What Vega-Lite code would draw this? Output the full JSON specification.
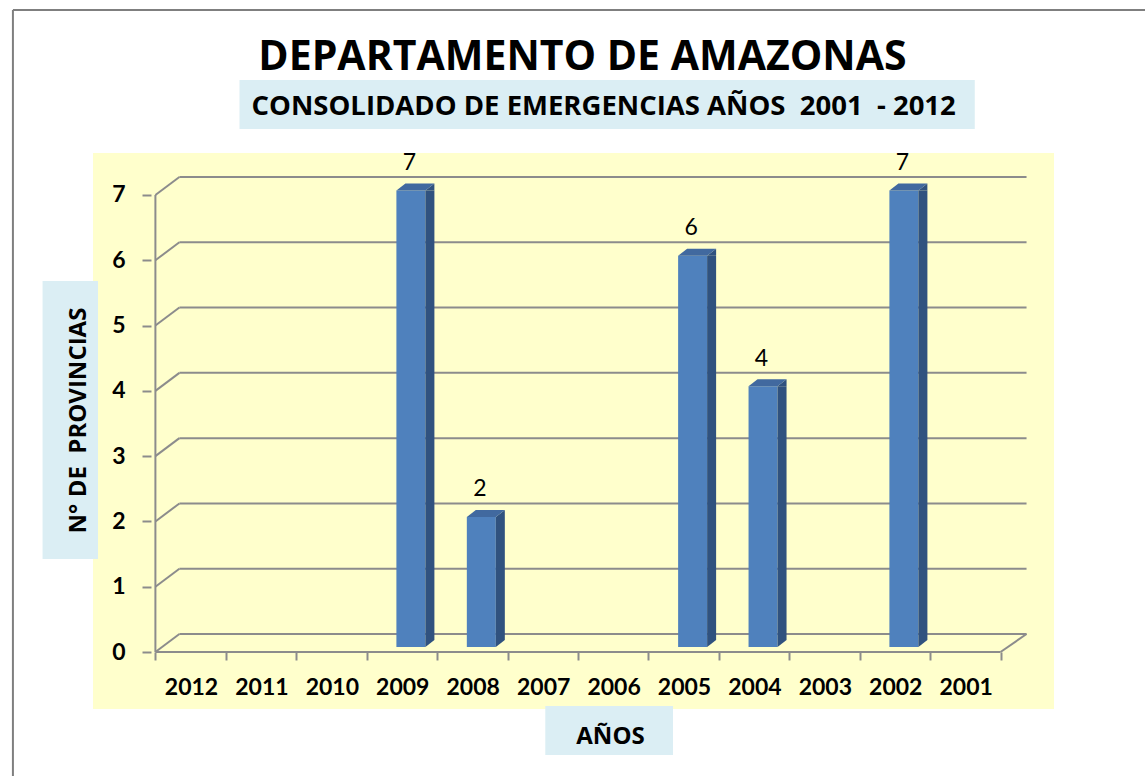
{
  "$schema": "https://vega.github.io/schema/vega-lite/v6.json",
  "width": 961,
  "height": 556,
  "autosize": "none",
  "padding": {"left": 93, "top": 153, "right": 91, "bottom": 67},
  "background": "white",
  "view": {"fill": "#FFFFCC", "stroke": null},
  "config": {"font": "Lato"},
  "datasets": {
    "bars": [
      {"year": 2012, "value": 0},
      {"year": 2011, "value": 0},
      {"year": 2010, "value": 0},
      {"year": 2009, "value": 7},
      {"year": 2008, "value": 2},
      {"year": 2007, "value": 0},
      {"year": 2006, "value": 0},
      {"year": 2005, "value": 6},
      {"year": 2004, "value": 4},
      {"year": 2003, "value": 0},
      {"year": 2002, "value": 7},
      {"year": 2001, "value": 0}
    ],
    "levels": [{"v": 0}, {"v": 1}, {"v": 2}, {"v": 3}, {"v": 4}, {"v": 5}, {"v": 6}, {"v": 7}],
    "one": [{}]
  },
  "layer": [
    {
      "data": {"name": "bars"},
      "transform": [{"filter": "datum.value > 0"}],
      "mark": {"type": "bar", "color": "#4F81BD", "width": 29, "xOffset": 9, "yOffset": -4.5, "y2Offset": -5, "opacity": 0},
      "encoding": {
        "x": {
          "field": "year",
          "type": "quantitative",
          "scale": {"domain": [1999.812, 2013.315], "reverse": true, "nice": false, "zero": false},
          "axis": {
            "values": [2012.5, 2011.5, 2010.5, 2009.5, 2008.5, 2007.5, 2006.5, 2005.5, 2004.5, 2003.5, 2002.5, 2001.5, 2000.5],
            "offset": -57,
            "zindex": 1,
            "domain": false,
            "grid": false,
            "tickSize": 8,
            "tickColor": "#8C8C8C",
            "tickWidth": 2,
            "labelExpr": "datum.value > 2001 ? '' + floor(datum.value) : ''",
            "labelOffset": 35.6,
            "labelFont": "Lato",
            "labelFontWeight": "bold",
            "labelFontSize": 23,
            "labelColor": "black",
            "labelPadding": 16,
            "labelOverlap": false,
            "labelFlush": false,
            "labelBound": false,
            "title": "AÑOS",
            "titleFont": "Open Sans",
            "titleFontWeight": "bold",
            "titleFontSize": 24,
            "titleColor": "black",
            "titleX": 517,
            "titleY": 91,
            "titleAlign": "center",
            "titleBaseline": "alphabetic"
          }
        },
        "y": {
          "field": "value",
          "type": "quantitative",
          "scale": {"domain": [-0.873, 7.643], "nice": false, "zero": false},
          "axis": {
            "values": [0, 1, 2, 3, 4, 5, 6, 7],
            "format": "d",
            "offset": -58,
            "zindex": 1,
            "domain": false,
            "grid": false,
            "tickSize": 9,
            "tickColor": "#8C8C8C",
            "tickWidth": 2,
            "labelFont": "Lato",
            "labelFontWeight": "bold",
            "labelFontSize": 23,
            "labelColor": "black",
            "labelPadding": 17,
            "labelOverlap": false,
            "labelFlush": false,
            "labelBound": false,
            "title": "N° DE\u00a0 PROVINCIAS",
            "titleFont": "Open Sans",
            "titleFontWeight": "bold",
            "titleFontSize": 24,
            "titleColor": "black",
            "titleX": -66,
            "titleY": 267,
            "titleAngle": -90,
            "titleAlign": "center",
            "titleBaseline": "alphabetic"
          }
        },
        "y2": {"datum": 0}
      }
    },
    {
      "data": {"name": "one"},
      "mark": {"type": "rule", "color": "#7F7F7F", "strokeWidth": 2},
      "encoding": {
        "x": {"datum": 2014.523, "type": "quantitative"},
        "x2": {"datum": 1998.4},
        "y": {"datum": 9.833, "type": "quantitative"}
      }
    },
    {
      "data": {"name": "one"},
      "mark": {"type": "rule", "color": "#7F7F7F", "strokeWidth": 2},
      "encoding": {
        "x": {"datum": 2014.523, "type": "quantitative"},
        "y": {"datum": 9.833, "type": "quantitative"},
        "y2": {"datum": -1.95}
      }
    },
    {
      "data": {"name": "one"},
      "mark": {"type": "rect", "color": "#DBEEF4"},
      "encoding": {
        "x": {"datum": 2011.306, "type": "quantitative"},
        "x2": {"datum": 2000.866},
        "y": {"datum": 8.761, "type": "quantitative"},
        "y2": {"datum": 8.01}
      }
    },
    {
      "data": {"name": "one"},
      "mark": {"type": "rect", "color": "#DBEEF4"},
      "encoding": {
        "x": {"datum": 2014.102, "type": "quantitative"},
        "x2": {"datum": 2013.315},
        "y": {"datum": 5.682, "type": "quantitative"},
        "y2": {"datum": 1.424}
      }
    },
    {
      "data": {"name": "one"},
      "mark": {"type": "rect", "color": "#DBEEF4"},
      "encoding": {
        "x": {"datum": 2006.964, "type": "quantitative"},
        "x2": {"datum": 2005.151},
        "y": {"datum": -0.827, "type": "quantitative"},
        "y2": {"datum": -1.578}
      }
    },
    {
      "data": {"name": "levels"},
      "mark": {"type": "rule", "color": "#8C8C8C", "strokeWidth": 2, "xOffset": 24, "x2Offset": 26, "yOffset": -18},
      "encoding": {
        "x": {"datum": 2012.5, "type": "quantitative"},
        "x2": {"datum": 2000.5},
        "y": {"field": "v", "type": "quantitative"}
      }
    },
    {
      "data": {"name": "levels"},
      "mark": {"type": "rule", "color": "#8C8C8C", "strokeWidth": 2, "x2Offset": 24, "y2Offset": -18},
      "encoding": {
        "x": {"datum": 2012.5, "type": "quantitative"},
        "x2": {"datum": 2012.5},
        "y": {"field": "v", "type": "quantitative"},
        "y2": {"field": "v"}
      }
    },
    {
      "data": {"name": "one"},
      "mark": {"type": "rule", "color": "#8C8C8C", "strokeWidth": 2, "x2Offset": 26, "y2Offset": -18},
      "encoding": {
        "x": {"datum": 2000.5, "type": "quantitative"},
        "x2": {"datum": 2000.5},
        "y": {"datum": 0, "type": "quantitative"},
        "y2": {"datum": 0}
      }
    },
    {
      "data": {"name": "one"},
      "mark": {"type": "rule", "color": "#8C8C8C", "strokeWidth": 2},
      "encoding": {
        "x": {"datum": 2012.5, "type": "quantitative"},
        "y": {"datum": 0, "type": "quantitative"},
        "y2": {"datum": 7}
      }
    },
    {
      "data": {"name": "one"},
      "mark": {"type": "rule", "color": "#8C8C8C", "strokeWidth": 2},
      "encoding": {
        "x": {"datum": 2012.5, "type": "quantitative"},
        "x2": {"datum": 2000.5},
        "y": {"datum": 0, "type": "quantitative"}
      }
    },
    {
      "data": {"name": "bars"},
      "transform": [{"filter": "datum.value > 0"}],
      "mark": {"type": "bar", "color": "#4F81BD", "width": 29, "xOffset": 9, "yOffset": -4.5, "y2Offset": -5},
      "encoding": {
        "x": {"field": "year", "type": "quantitative"},
        "y": {"field": "value", "type": "quantitative"},
        "y2": {"datum": 0}
      }
    },
    {
      "data": {"name": "bars"},
      "transform": [{"filter": "datum.value > 0"}],
      "mark": {"type": "bar", "color": "#30527F", "width": 9, "xOffset": 28, "yOffset": -4.5, "y2Offset": -12},
      "encoding": {
        "x": {"field": "year", "type": "quantitative"},
        "y": {"field": "value", "type": "quantitative"},
        "y2": {"datum": 0}
      }
    },
    {
      "data": {"name": "bars"},
      "transform": [{"filter": "datum.value > 0"}],
      "mark": {"type": "point", "shape": "M23.5,-4.5L32.5,-11.5L32.5,-4.5Z", "size": 4, "filled": true, "opacity": 1, "color": "#30527F", "strokeWidth": 0},
      "encoding": {
        "x": {"field": "year", "type": "quantitative"},
        "y": {"field": "value", "type": "quantitative"}
      }
    },
    {
      "data": {"name": "bars"},
      "transform": [{"filter": "datum.value > 0"}],
      "mark": {"type": "point", "shape": "M23.5,-12L32.5,-12L23.5,-5Z", "size": 4, "filled": true, "opacity": 1, "color": "#30527F", "strokeWidth": 0},
      "encoding": {
        "x": {"field": "year", "type": "quantitative"},
        "y": {"datum": 0, "type": "quantitative"}
      }
    },
    {
      "data": {"name": "bars"},
      "transform": [{"filter": "datum.value > 0"}],
      "mark": {"type": "point", "shape": "M-5.5,-4.5L23.5,-4.5L32.5,-11.5L3.5,-11.5Z", "size": 4, "filled": true, "opacity": 1, "color": "#41699F", "strokeWidth": 0},
      "encoding": {
        "x": {"field": "year", "type": "quantitative"},
        "y": {"field": "value", "type": "quantitative"}
      }
    },
    {
      "data": {"name": "bars"},
      "transform": [{"filter": "datum.value > 0"}],
      "mark": {"type": "text", "dx": 7.5, "dy": -32, "baseline": "middle", "align": "center", "font": "Lato", "fontSize": 23, "color": "black"},
      "encoding": {
        "x": {"field": "year", "type": "quantitative"},
        "y": {"field": "value", "type": "quantitative"},
        "text": {"field": "value", "type": "quantitative"}
      }
    },
    {
      "data": {"name": "one"},
      "mark": {"type": "text", "baseline": "alphabetic", "align": "center", "font": "Open Sans", "fontWeight": "bold", "fontSize": 41, "color": "black"},
      "encoding": {
        "x": {"datum": 2006.437, "type": "quantitative"},
        "y": {"datum": 8.914, "type": "quantitative"},
        "text": {"value": "DEPARTAMENTO DE AMAZONAS"}
      }
    },
    {
      "data": {"name": "one"},
      "mark": {"type": "text", "baseline": "alphabetic", "align": "center", "font": "Open Sans", "fontWeight": "bold", "fontSize": 27.5, "color": "black"},
      "encoding": {
        "x": {"datum": 2006.135, "type": "quantitative"},
        "y": {"datum": 8.225, "type": "quantitative"},
        "text": {"value": "CONSOLIDADO DE EMERGENCIAS AÑOS\u00a0 2001\u00a0 - 2012"}
      }
    }
  ]
}
